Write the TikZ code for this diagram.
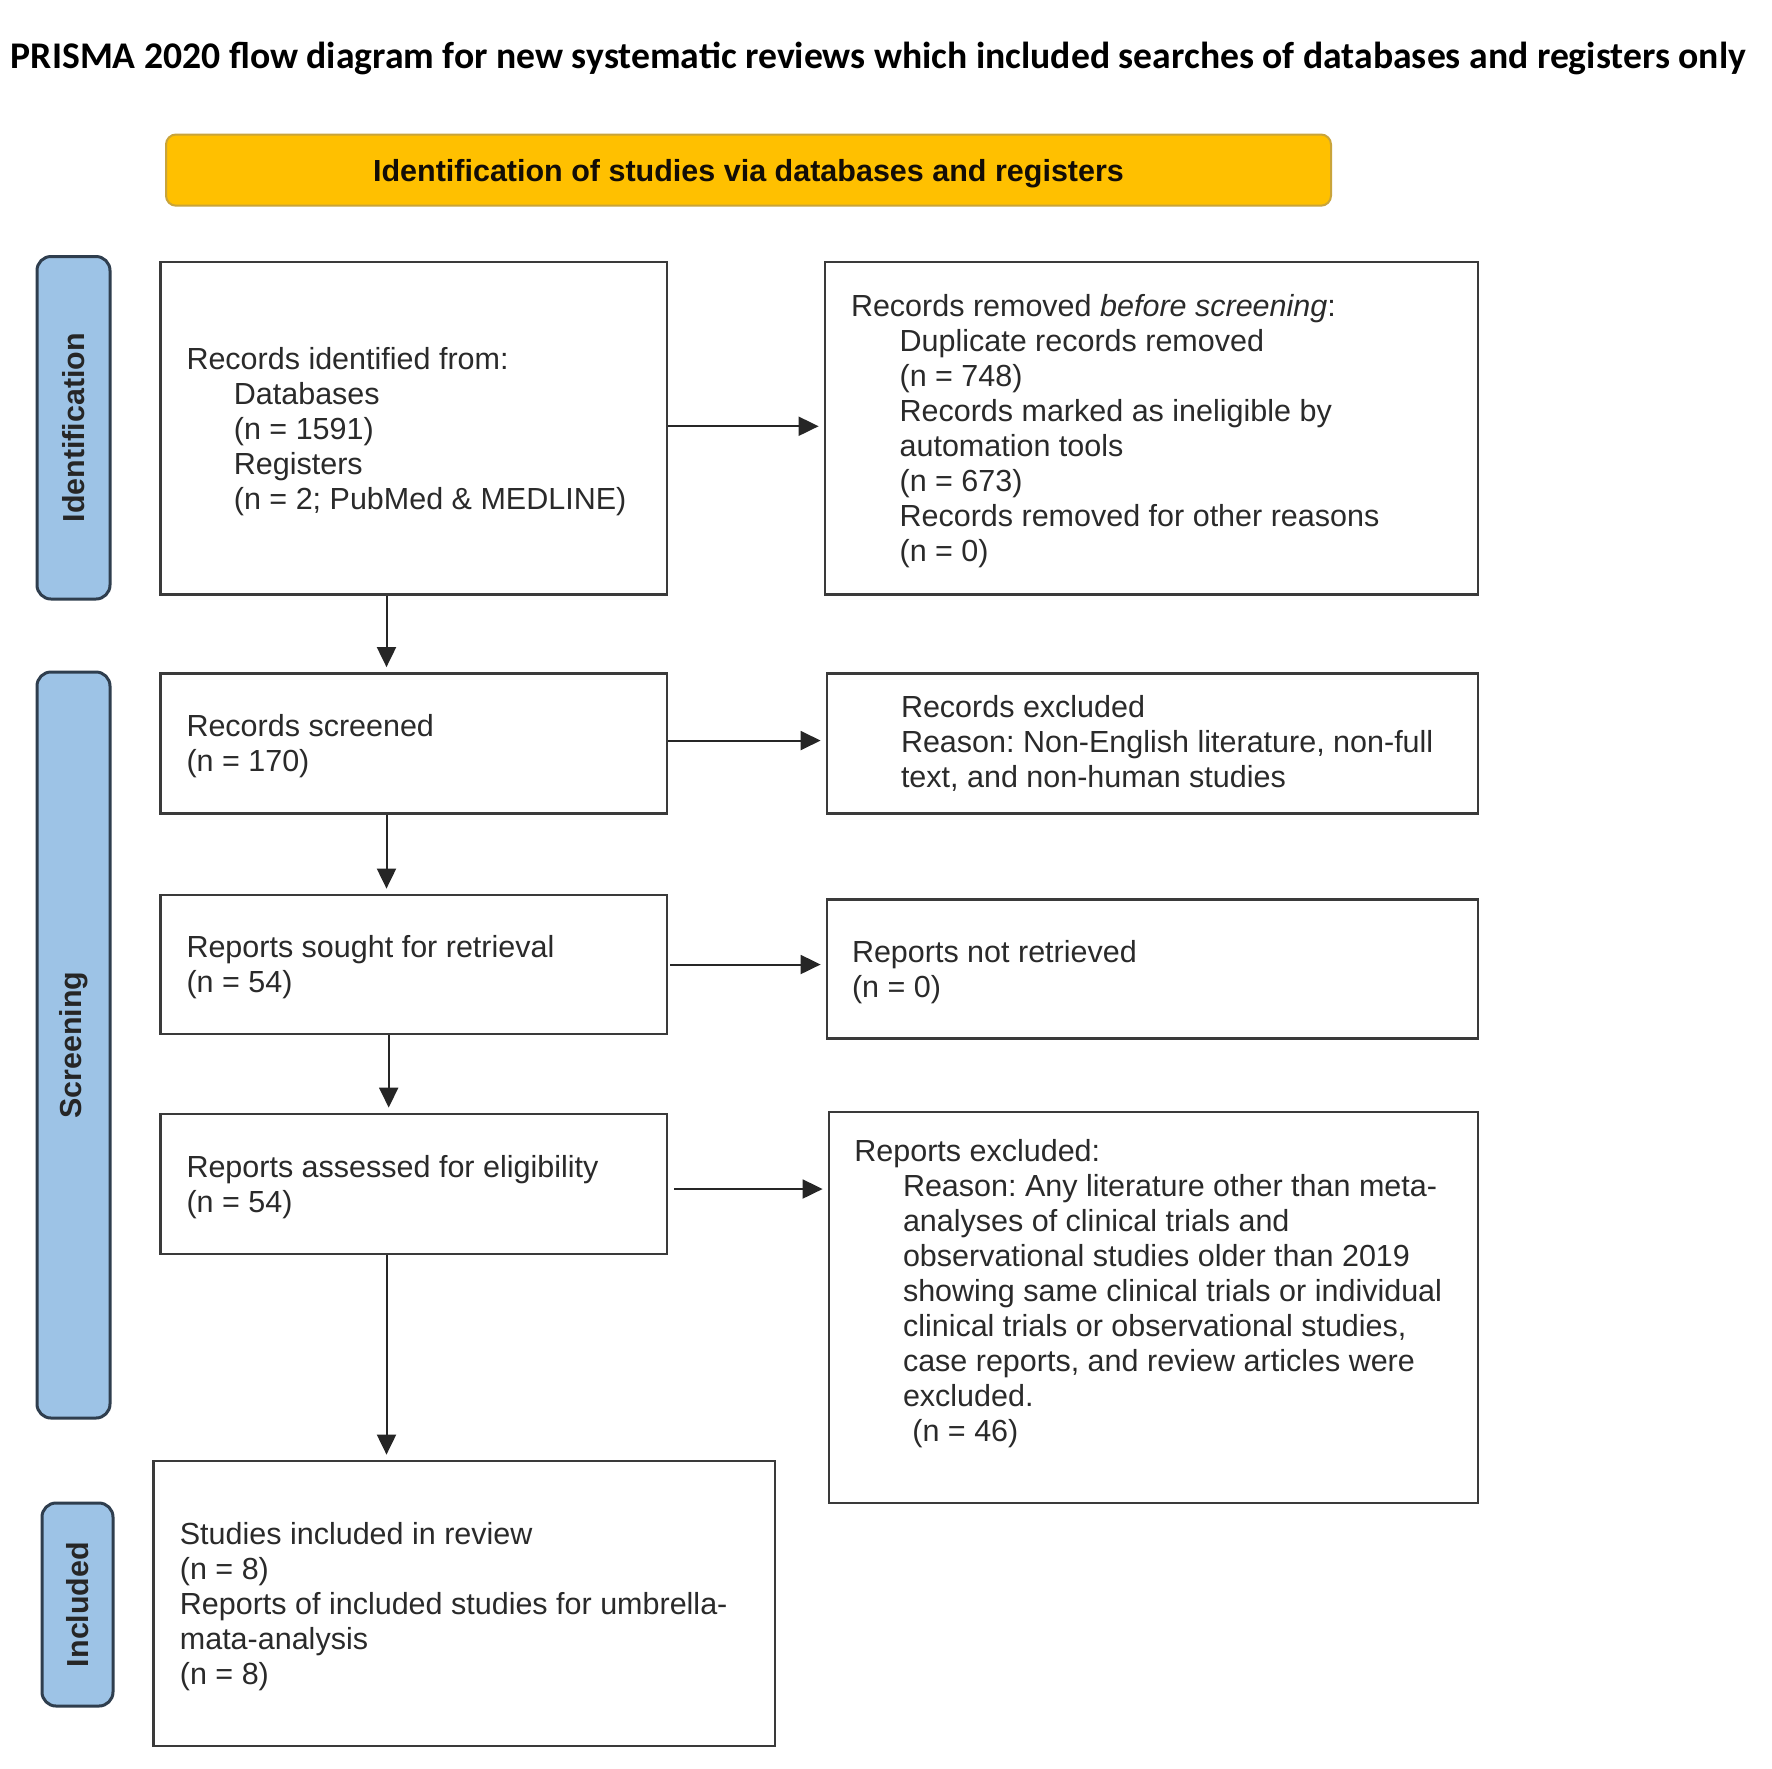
\documentclass[tikz,border=0pt]{standalone}
\usepackage{fontspec}
\usepackage{graphicx}
\setmainfont{Liberation Sans}
\newfontfamily\titlefont{Carlito}
\usetikzlibrary{arrows.meta,fit,calc}
\definecolor{boxline}{HTML}{3A3A3A}
\definecolor{gold}{HTML}{FFC000}
\definecolor{goldline}{HTML}{C9A43A}
\definecolor{pillblue}{HTML}{9DC3E6}
\definecolor{pillline}{HTML}{2F3E4E}
\definecolor{txtcol}{HTML}{2A2A2A}
\frenchspacing
\begin{document}
\begin{tikzpicture}[x=0.5pt,y=-0.5pt,
  box/.style={draw=boxline, line width=1.4pt, inner sep=0pt, fill=white},
  pill/.style={draw=pillline, fill=pillblue, line width=1.5pt, rounded corners=7pt, inner sep=0pt},
  pilltxt/.style={rotate=90, inner sep=0pt, text=black!85, font=\fontsize{15.2pt}{17.5pt}\selectfont\bfseries},
  txt/.style={inner sep=0pt, align=left, text=txtcol, yshift=-1.5pt, font=\fontsize{15.25pt}{17.5pt}\selectfont},
  arr/.style={-{Triangle[length=10pt,width=9.5pt]}, line width=1pt, draw=black!85, shorten >=2.5pt}]
\useasboundingbox (0,0) rectangle (1772,1768);
\fill[white] (0,0) rectangle (1772,1768);
% title
\node[inner sep=0pt] (title) at (878.5,58.5) {\resizebox{867.5pt}{!}{\titlefont\bfseries PRISMA 2020 flow diagram for new systematic reviews which included searches of databases and registers only}};
% header bar
\node[draw=goldline, fill=gold, line width=1pt, rounded corners=5pt, inner sep=0pt, fit={(166,134.5) (1331,205.7)}] (head) {};
\node[inner sep=0pt, yshift=-1.7pt, text=black!90!brown, font=\fontsize{15.25pt}{17.5pt}\selectfont\bfseries] (headtxt) at (head.center) {Identification of studies via databases and registers};
% side pills
\node[pill, fit={(37,256.5) (110,599)}] (p1) {};
\node[pilltxt] (p1t) at (p1.center) {Identification};
\node[pill, fit={(37,672) (110,1418)}] (p2) {};
\node[pilltxt] (p2t) at (p2.center) {Screening};
\node[pill, fit={(42,1503) (113,1706)}] (p3) {};
\node[pilltxt] (p3t) at (p3.center) {Included};
% boxes
\node[box, fit={(160.5,262) (667,594.5)}] (b1) {};
\node[box, fit={(825,262) (1478,594.5)}] (b2) {};
\node[box, fit={(160.5,673.5) (667,813.6)}] (b3) {};
\node[box, fit={(827,673.5) (1478,813.6)}] (b4) {};
\node[box, fit={(160.5,895) (667,1034)}] (b5) {};
\node[box, fit={(827,899.5) (1478,1038.5)}] (b6) {};
\node[box, fit={(160.5,1114) (667,1254)}] (b7) {};
\node[box, fit={(829,1112) (1478,1503)}] (b8) {};
\node[box, fit={(153.7,1461) (775,1746)}] (b9) {};
% texts
\node[txt, anchor=west] (t1) at ([xshift=13.5pt]b1.west) {Records identified from:\\
\hspace*{23.7pt}Databases\\
\hspace*{23.7pt}(n = 1591)\\
\hspace*{23.7pt}Registers\\
\hspace*{23.7pt}(n = 2; PubMed \& MEDLINE)};
\node[txt, anchor=west] (t2) at ([xshift=13.5pt]b2.west) {Records removed \textit{before screening}:\\
\hspace*{24.3pt}Duplicate records removed\\
\hspace*{24.3pt}(n = 748)\\
\hspace*{24.3pt}Records marked as ineligible by\\
\hspace*{24.3pt}automation tools\\
\hspace*{24.3pt}(n = 673)\\
\hspace*{24.3pt}Records removed for other reasons\\
\hspace*{24.3pt}(n = 0)};
\node[txt, anchor=west] (t3) at ([xshift=13.5pt]b3.west) {Records screened\\(n = 170)};
\node[txt, anchor=west] (t4) at ([xshift=37.5pt,yshift=1.5pt]b4.west) {Records excluded\\Reason: Non-English literature, non-full\\text, and non-human studies};
\node[txt, anchor=west] (t5) at ([xshift=13.5pt]b5.west) {Reports sought for retrieval\\(n = 54)};
\node[txt, anchor=west] (t6) at ([xshift=13pt]b6.west) {Reports not retrieved\\(n = 0)};
\node[txt, anchor=west] (t7) at ([xshift=13.5pt]b7.west) {Reports assessed for eligibility\\(n = 54)};
\node[txt, anchor=west] (t8) at ([xshift=13.2pt,yshift=8.5pt]b8.west) {Reports excluded:\\
\hspace*{24.3pt}Reason: Any literature other than meta-\\
\hspace*{24.3pt}analyses of clinical trials and\\
\hspace*{24.3pt}observational studies older than 2019\\
\hspace*{24.3pt}showing same clinical trials or individual\\
\hspace*{24.3pt}clinical trials or observational studies,\\
\hspace*{24.3pt}case reports, and review articles were\\
\hspace*{24.3pt}excluded.\\
\hspace*{29pt}(n = 46)};
\node[txt, anchor=west] (t9) at ([xshift=13.6pt]b9.west) {Studies included in review\\(n = 8)\\Reports of included studies for umbrella-\\mata-analysis\\(n = 8)};
% arrows
\coordinate (ax) at (386.5,0);
\coordinate (ax2) at (388.7,0);
\draw[arr] ([yshift=1pt]b1.east) -- ([yshift=1pt]b1.east -| b2.west);
\draw[arr] (b1.south -| ax) -- (b3.north -| ax);
\draw[arr] ([yshift=1.5pt]b3.east) -- ([yshift=1.5pt]b3.east -| b4.west);
\draw[arr] (b3.south -| ax) -- (b5.north -| ax);
\draw[arr] ([xshift=1pt]b5.east) -- (b5.east -| b6.west);
\draw[arr] (b5.south -| ax2) -- (b7.north -| ax2);
\draw[arr, shorten <=3pt] ([yshift=-2.5pt]b7.east) -- ([yshift=-2.5pt]b7.east -| b8.west);
\draw[arr] (b7.south -| ax) -- (b9.north -| ax);
\end{tikzpicture}
\end{document}
